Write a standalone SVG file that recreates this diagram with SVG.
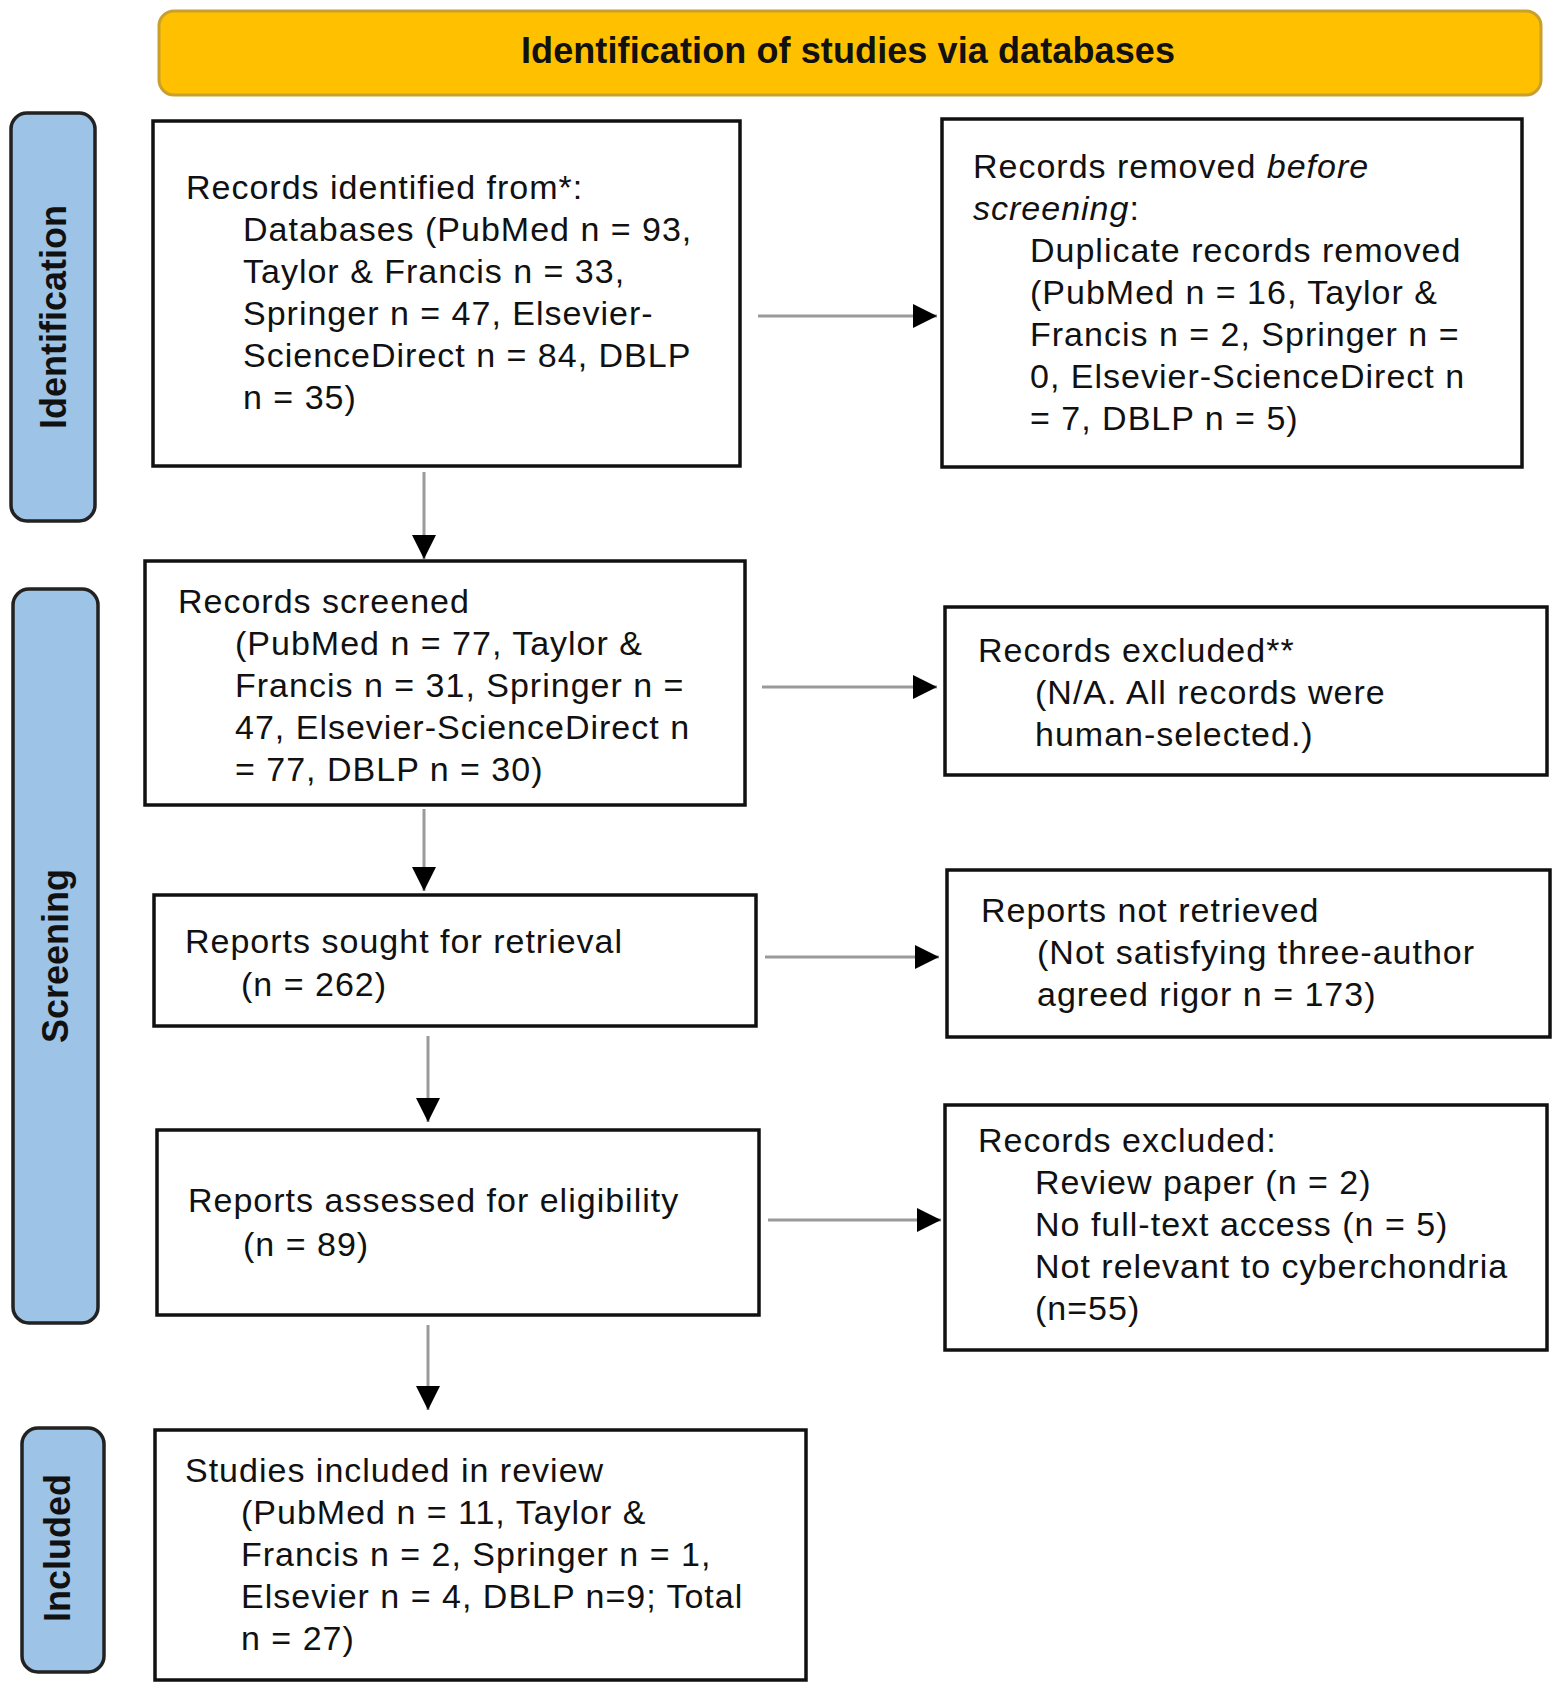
<svg xmlns="http://www.w3.org/2000/svg" width="1559" height="1690" viewBox="0 0 1559 1690">
<style>
.box{fill:#fff;stroke:#111;stroke-width:3.5}
.side{fill:#9DC3E6;stroke:#222;stroke-width:3.5}
.hdr{fill:#FFC000;stroke:#C9A02C;stroke-width:3}
.t{font-family:"Liberation Sans",Arial,sans-serif;font-size:34px;letter-spacing:1px;fill:#111}
.sl{font-family:"Liberation Sans",Arial,sans-serif;font-size:36px;font-weight:bold;fill:#111;text-anchor:middle}
.ht{font-family:"Liberation Sans",Arial,sans-serif;font-size:36px;font-weight:bold;fill:#111;text-anchor:middle;letter-spacing:0.1px}
.conn{stroke:#9a9a9a;stroke-width:3;fill:none;marker-end:url(#ah)}
</style>
<defs>
<marker id="ah" viewBox="0 0 24 24" refX="24" refY="12" markerWidth="24" markerHeight="24" markerUnits="userSpaceOnUse" orient="auto">
<path d="M0,0 L24,12 L0,24 z" fill="#000"/>
</marker>
</defs>
<rect width="1559" height="1690" fill="#fff"/>

<g id="header">
<rect class="hdr" x="159" y="11" width="1382" height="84" rx="15"/>
<text class="ht" x="848" y="63">Identification of studies via databases</text>
</g>

<g id="side-identification">
<rect class="side" x="11" y="113" width="84" height="408" rx="16"/>
<text class="sl" x="53" y="330" transform="rotate(-90 53 317)">Identification</text>
</g>
<g id="side-screening">
<rect class="side" x="13" y="589" width="85" height="734" rx="16"/>
<text class="sl" x="55" y="969" transform="rotate(-90 55 956)">Screening</text>
</g>
<g id="side-included">
<rect class="side" x="22" y="1428" width="82" height="244" rx="16"/>
<text class="sl" x="57" y="1561" transform="rotate(-90 57 1548)">Included</text>
</g>

<g id="connectors">
<line class="conn" x1="758" y1="316" x2="937" y2="316"/>
<line class="conn" x1="762" y1="687" x2="937" y2="687"/>
<line class="conn" x1="765" y1="957" x2="939" y2="957"/>
<line class="conn" x1="768" y1="1220" x2="941" y2="1220"/>
<line class="conn" x1="424" y1="472" x2="424" y2="559"/>
<line class="conn" x1="424" y1="809" x2="424" y2="891"/>
<line class="conn" x1="428" y1="1036" x2="428" y2="1122"/>
<line class="conn" x1="428" y1="1325" x2="428" y2="1410"/>
</g>

<g id="records-identified">
<rect class="box" x="153" y="121" width="587" height="345"/>
<text class="t"><tspan x="186" y="199">Records identified from*:</tspan><tspan x="243" y="241">Databases (PubMed n = 93,</tspan><tspan x="243" y="283">Taylor &amp; Francis n = 33,</tspan><tspan x="243" y="325">Springer n = 47, Elsevier-</tspan><tspan x="243" y="367">ScienceDirect n = 84, DBLP</tspan><tspan x="243" y="409">n = 35)</tspan></text>
</g>

<g id="records-removed">
<rect class="box" x="942" y="119" width="580" height="348"/>
<text class="t"><tspan x="973" y="178">Records removed <tspan font-style="italic">before</tspan></tspan><tspan x="973" y="220"><tspan font-style="italic">screening</tspan>:</tspan><tspan x="1030" y="262">Duplicate records removed</tspan><tspan x="1030" y="304">(PubMed n = 16, Taylor &amp;</tspan><tspan x="1030" y="346">Francis n = 2, Springer n =</tspan><tspan x="1030" y="388">0, Elsevier-ScienceDirect n</tspan><tspan x="1030" y="430">= 7, DBLP n = 5)</tspan></text>
</g>

<g id="records-screened">
<rect class="box" x="145" y="561" width="600" height="244"/>
<text class="t"><tspan x="178" y="613">Records screened</tspan><tspan x="235" y="655">(PubMed n = 77, Taylor &amp;</tspan><tspan x="235" y="697">Francis n = 31, Springer n =</tspan><tspan x="235" y="739">47, Elsevier-ScienceDirect n</tspan><tspan x="235" y="781">= 77, DBLP n = 30)</tspan></text>
</g>

<g id="records-excluded-1">
<rect class="box" x="945" y="607" width="602" height="168"/>
<text class="t"><tspan x="978" y="662">Records excluded**</tspan><tspan x="1035" y="704">(N/A. All records were</tspan><tspan x="1035" y="746">human-selected.)</tspan></text>
</g>

<g id="reports-sought">
<rect class="box" x="154" y="895" width="602" height="131"/>
<text class="t"><tspan x="185" y="953">Reports sought for retrieval</tspan><tspan x="241" y="996">(n = 262)</tspan></text>
</g>

<g id="reports-not-retrieved">
<rect class="box" x="947" y="870" width="603" height="167"/>
<text class="t"><tspan x="981" y="922">Reports not retrieved</tspan><tspan x="1037" y="964">(Not satisfying three-author</tspan><tspan x="1037" y="1006">agreed rigor n = 173)</tspan></text>
</g>

<g id="reports-assessed">
<rect class="box" x="157" y="1130" width="602" height="185"/>
<text class="t"><tspan x="188" y="1212">Reports assessed for eligibility</tspan><tspan x="243" y="1256">(n = 89)</tspan></text>
</g>

<g id="records-excluded-2">
<rect class="box" x="945" y="1105" width="602" height="245"/>
<text class="t"><tspan x="978" y="1152">Records excluded:</tspan><tspan x="1035" y="1194">Review paper (n = 2)</tspan><tspan x="1035" y="1236">No full-text access (n = 5)</tspan><tspan x="1035" y="1278">Not relevant to cyberchondria</tspan><tspan x="1035" y="1320">(n=55)</tspan></text>
</g>

<g id="studies-included">
<rect class="box" x="155" y="1430" width="651" height="250"/>
<text class="t"><tspan x="185" y="1482">Studies included in review</tspan><tspan x="241" y="1524">(PubMed n = 11, Taylor &amp;</tspan><tspan x="241" y="1566">Francis n = 2, Springer n = 1,</tspan><tspan x="241" y="1608">Elsevier n = 4, DBLP n=9; Total</tspan><tspan x="241" y="1650">n = 27)</tspan></text>
</g>
</svg>
